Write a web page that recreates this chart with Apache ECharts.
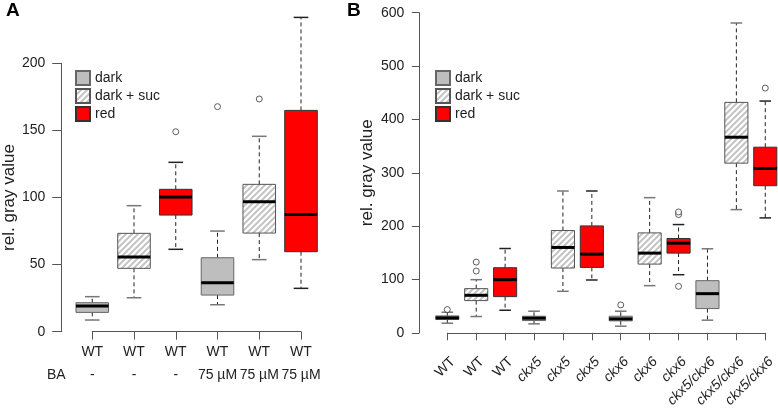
<!DOCTYPE html>
<html>
<head>
<meta charset="utf-8">
<script src="https://cdn.jsdelivr.net/npm/echarts@6/dist/echarts.min.js"></script>
<style>
html, body { margin: 0; padding: 0; background: #fff; }
#chart { width: 778px; height: 410px; }
</style>
</head>
<body>
<div id="chart"></div>
<script>
// ---- panel A ----
const catsA = ['WT', 'WT', 'WT', 'WT', 'WT', 'WT'];
const baA = ['-', '-', '-', '75 µM', '75 µM', '75 µM'];
const condA = ['dark', 'dark + suc', 'red', 'dark', 'dark + suc', 'red'];
// [min, q1, median, q3, max]
const boxA = [
  [8.7, 14.4, 19.1, 21.6, 26.1],
  [25.3, 47.2, 55.6, 73.3, 93.9],
  [61.4, 86.9, 100.4, 106.1, 126.2],
  [20.1, 27.3, 36.5, 55.1, 75.0],
  [53.7, 73.5, 96.9, 109.8, 145.6],
  [32.3, 59.6, 87.4, 164.9, 234.2]
];
const outA = [[2, 149], [3, 167.7], [4, 173.4]];

// ---- panel B ----
const catsB = ['WT', 'WT', 'WT', 'ckx5', 'ckx5', 'ckx5', 'ckx6', 'ckx6', 'ckx6',
  'ckx5/ckx6', 'ckx5/ckx6', 'ckx5/ckx6'];
const condB = ['dark', 'dark + suc', 'red', 'dark', 'dark + suc', 'red',
  'dark', 'dark + suc', 'red', 'dark', 'dark + suc', 'red'];
const boxB = [
  [18.0, 24.9, 28.0, 31.7, 38.6],
  [30.5, 60.4, 70.3, 82.8, 99.6],
  [42.3, 67.8, 99.6, 122.0, 158.0],
  [16.8, 23.0, 27.4, 31.1, 40.5],
  [77.8, 121.4, 160.0, 191.7, 265.8],
  [99.0, 122.6, 147.5, 200.4, 265.8],
  [12.4, 22.4, 26.1, 31.1, 40.5],
  [88.4, 128.8, 149.4, 187.3, 253.3],
  [108.9, 149.4, 168.0, 176.8, 202.9],
  [23.7, 45.4, 73.4, 97.7, 157.5],
  [230.9, 318.0, 366.6, 431.9, 580.7],
  [215.4, 275.7, 308.1, 347.9, 434.4]
];
const outB = [[0, 43.6], [1, 115.8], [1, 132.6], [6, 52.3], [8, 87.1],
  [8, 221.6], [8, 226.5], [11, 458.7]];

const conditions = ['dark', 'dark + suc', 'red'];

// hatch pattern for "dark + suc"
const hatch = document.createElement('canvas');
hatch.width = 6; hatch.height = 6;
const hc = hatch.getContext('2d');
hc.fillStyle = '#fff';
hc.fillRect(0, 0, 6, 6);
hc.strokeStyle = '#c4c4c4';
hc.lineWidth = 2;
hc.beginPath();
for (let k = -6; k <= 6; k += 6) {
  hc.moveTo(k - 1, 7);
  hc.lineTo(k + 7, -1);
}
hc.stroke();

const look = {
  'dark': { fill: '#bebebe', border: '#666', cap: '#777' },
  'dark + suc': { fill: { image: hatch, repeat: 'repeat' }, border: '#555', cap: '#777' },
  'red': { fill: '#ff0000', border: '#333', cap: '#222' }
};

const font = 'Liberation Sans, Arial, Helvetica, sans-serif';
const axisCol = '#555';
const textCol = '#222';

function makeRender(name, ratio, capRatio) {
  const s = look[name];
  return function (params, api) {
    const x = api.value(0);
    const pt = i => api.coord([x, api.value(i)]);
    const pMin = pt(1), pQ1 = pt(2), pMed = pt(3), pQ3 = pt(4), pMax = pt(5);
    const cx = pMin[0];
    const half = api.size([1, 0])[0] * ratio / 2;
    const cap = half * capRatio;
    const dash = { stroke: '#222', lineWidth: 1, lineDash: [4, 3] };
    return {
      type: 'group',
      children: [
        { type: 'line', shape: { x1: cx, y1: pQ3[1], x2: cx, y2: pMax[1] }, style: dash },
        { type: 'line', shape: { x1: cx, y1: pQ1[1], x2: cx, y2: pMin[1] }, style: dash },
        { type: 'line', shape: { x1: cx - cap, y1: pMax[1], x2: cx + cap, y2: pMax[1] },
          style: { stroke: s.cap, lineWidth: 1.5 } },
        { type: 'line', shape: { x1: cx - cap, y1: pMin[1], x2: cx + cap, y2: pMin[1] },
          style: { stroke: s.cap, lineWidth: 1.5 } },
        { type: 'rect', shape: { x: cx - half, y: pQ3[1], width: half * 2, height: pQ1[1] - pQ3[1] },
          style: { fill: s.fill, stroke: s.border, lineWidth: 1 } },
        { type: 'line', shape: { x1: cx - half, y1: pMed[1], x2: cx + half, y2: pMed[1] },
          style: { stroke: '#000', lineWidth: 3 } }
      ]
    };
  };
}

function boxSeries(grid, boxes, conds, ratio, capRatio) {
  return conditions.map(name => ({
    type: 'custom',
    name: name,
    xAxisIndex: grid,
    yAxisIndex: grid,
    clip: false,
    itemStyle: { color: look[name].fill, borderColor: look[name].border, borderWidth: 1 },
    encode: { x: 0, y: [1, 2, 3, 4, 5] },
    renderItem: makeRender(name, ratio, capRatio),
    data: boxes.map((b, i) => [i].concat(b)).filter((d, i) => conds[i] === name)
  }));
}

function outlierSeries(grid, pts) {
  return {
    type: 'scatter',
    xAxisIndex: grid,
    yAxisIndex: grid,
    clip: false,
    symbol: 'circle',
    symbolSize: 6,
    itemStyle: { color: '#fff', borderColor: '#222', borderWidth: 0.9 },
    data: pts
  };
}

function legendAt(left) {
  return {
    left: left, top: 70, padding: 0, orient: 'vertical', itemWidth: 14, itemHeight: 14, itemGap: 2,
    icon: 'rect', data: conditions, selectedMode: false,
    textStyle: { fontSize: 14, color: textCol, fontFamily: font }
  };
}

const chart = echarts.init(document.getElementById('chart'));
chart.setOption({
  animation: false,
  textStyle: { fontFamily: font, color: textCol },
  title: [
    { text: 'A', left: 6, top: 1, padding: 0, textStyle: { fontSize: 19, fontWeight: 'bold', color: '#000', fontFamily: font } },
    { text: 'B', left: 347, top: 1, padding: 0, textStyle: { fontSize: 19, fontWeight: 'bold', color: '#000', fontFamily: font } }
  ],
  legend: [legendAt(75), legendAt(435)],
  graphic: [
    { type: 'text', left: 47, top: 368, style: { text: 'BA', fill: textCol, font: '14px ' + font } }
  ],
  grid: [
    { left: 92, top: 63.3, width: 209, height: 268.4 },
    { left: 447.3, top: 12.7, width: 318.4, height: 321.3 }
  ],
  xAxis: [
    {
      type: 'category', gridIndex: 0, data: catsA, boundaryGap: false, offset: 1.7,
      axisLine: { lineStyle: { color: axisCol } },
      axisTick: { length: 8, lineStyle: { color: axisCol } },
      axisLabel: {
        interval: 0, margin: 7, fontSize: 14, lineHeight: 23, color: textCol,
        formatter: (v, i) => v + '\n' + baA[i]
      },
      splitLine: { show: false }
    },
    {
      type: 'category', gridIndex: 1, data: catsB, boundaryGap: false, offset: 6,
      axisLine: { lineStyle: { color: axisCol } },
      axisTick: { length: 7.5, lineStyle: { color: axisCol } },
      axisLabel: {
        interval: 0, rotate: 45, margin: 15, padding: [16, 0, 0, 0], fontSize: 14, color: textCol,
        formatter: v => v === 'WT' ? '{n|WT}' : '{i|' + v + '}',
        rich: { n: { fontSize: 14, color: textCol }, i: { fontSize: 14, fontStyle: 'italic', color: textCol } }
      },
      splitLine: { show: false }
    }
  ],
  yAxis: [
    {
      type: 'value', gridIndex: 0, min: 0, max: 200, interval: 50, offset: 31,
      name: 'rel. gray value', nameLocation: 'middle', nameGap: 41,
      nameTextStyle: { fontSize: 17, color: textCol },
      axisLine: { show: true, lineStyle: { color: axisCol } },
      axisTick: { show: true, length: 9, lineStyle: { color: axisCol } },
      axisLabel: { fontSize: 14, margin: 16, color: textCol },
      splitLine: { show: false }
    },
    {
      type: 'value', gridIndex: 1, min: 0, max: 600, interval: 100, offset: 28,
      name: 'rel. gray value', nameLocation: 'middle', nameGap: 43,
      nameTextStyle: { fontSize: 17, color: textCol },
      axisLine: { show: true, lineStyle: { color: axisCol } },
      axisTick: { show: true, length: 7.5, lineStyle: { color: axisCol } },
      axisLabel: { fontSize: 14, margin: 15, color: textCol },
      splitLine: { show: false }
    }
  ],
  series: [].concat(
    boxSeries(0, boxA, condA, 0.78, 0.45),
    [outlierSeries(0, outA)],
    boxSeries(1, boxB, condB, 0.8, 0.5),
    [outlierSeries(1, outB)]
  )
});
</script>
</body>
</html>
